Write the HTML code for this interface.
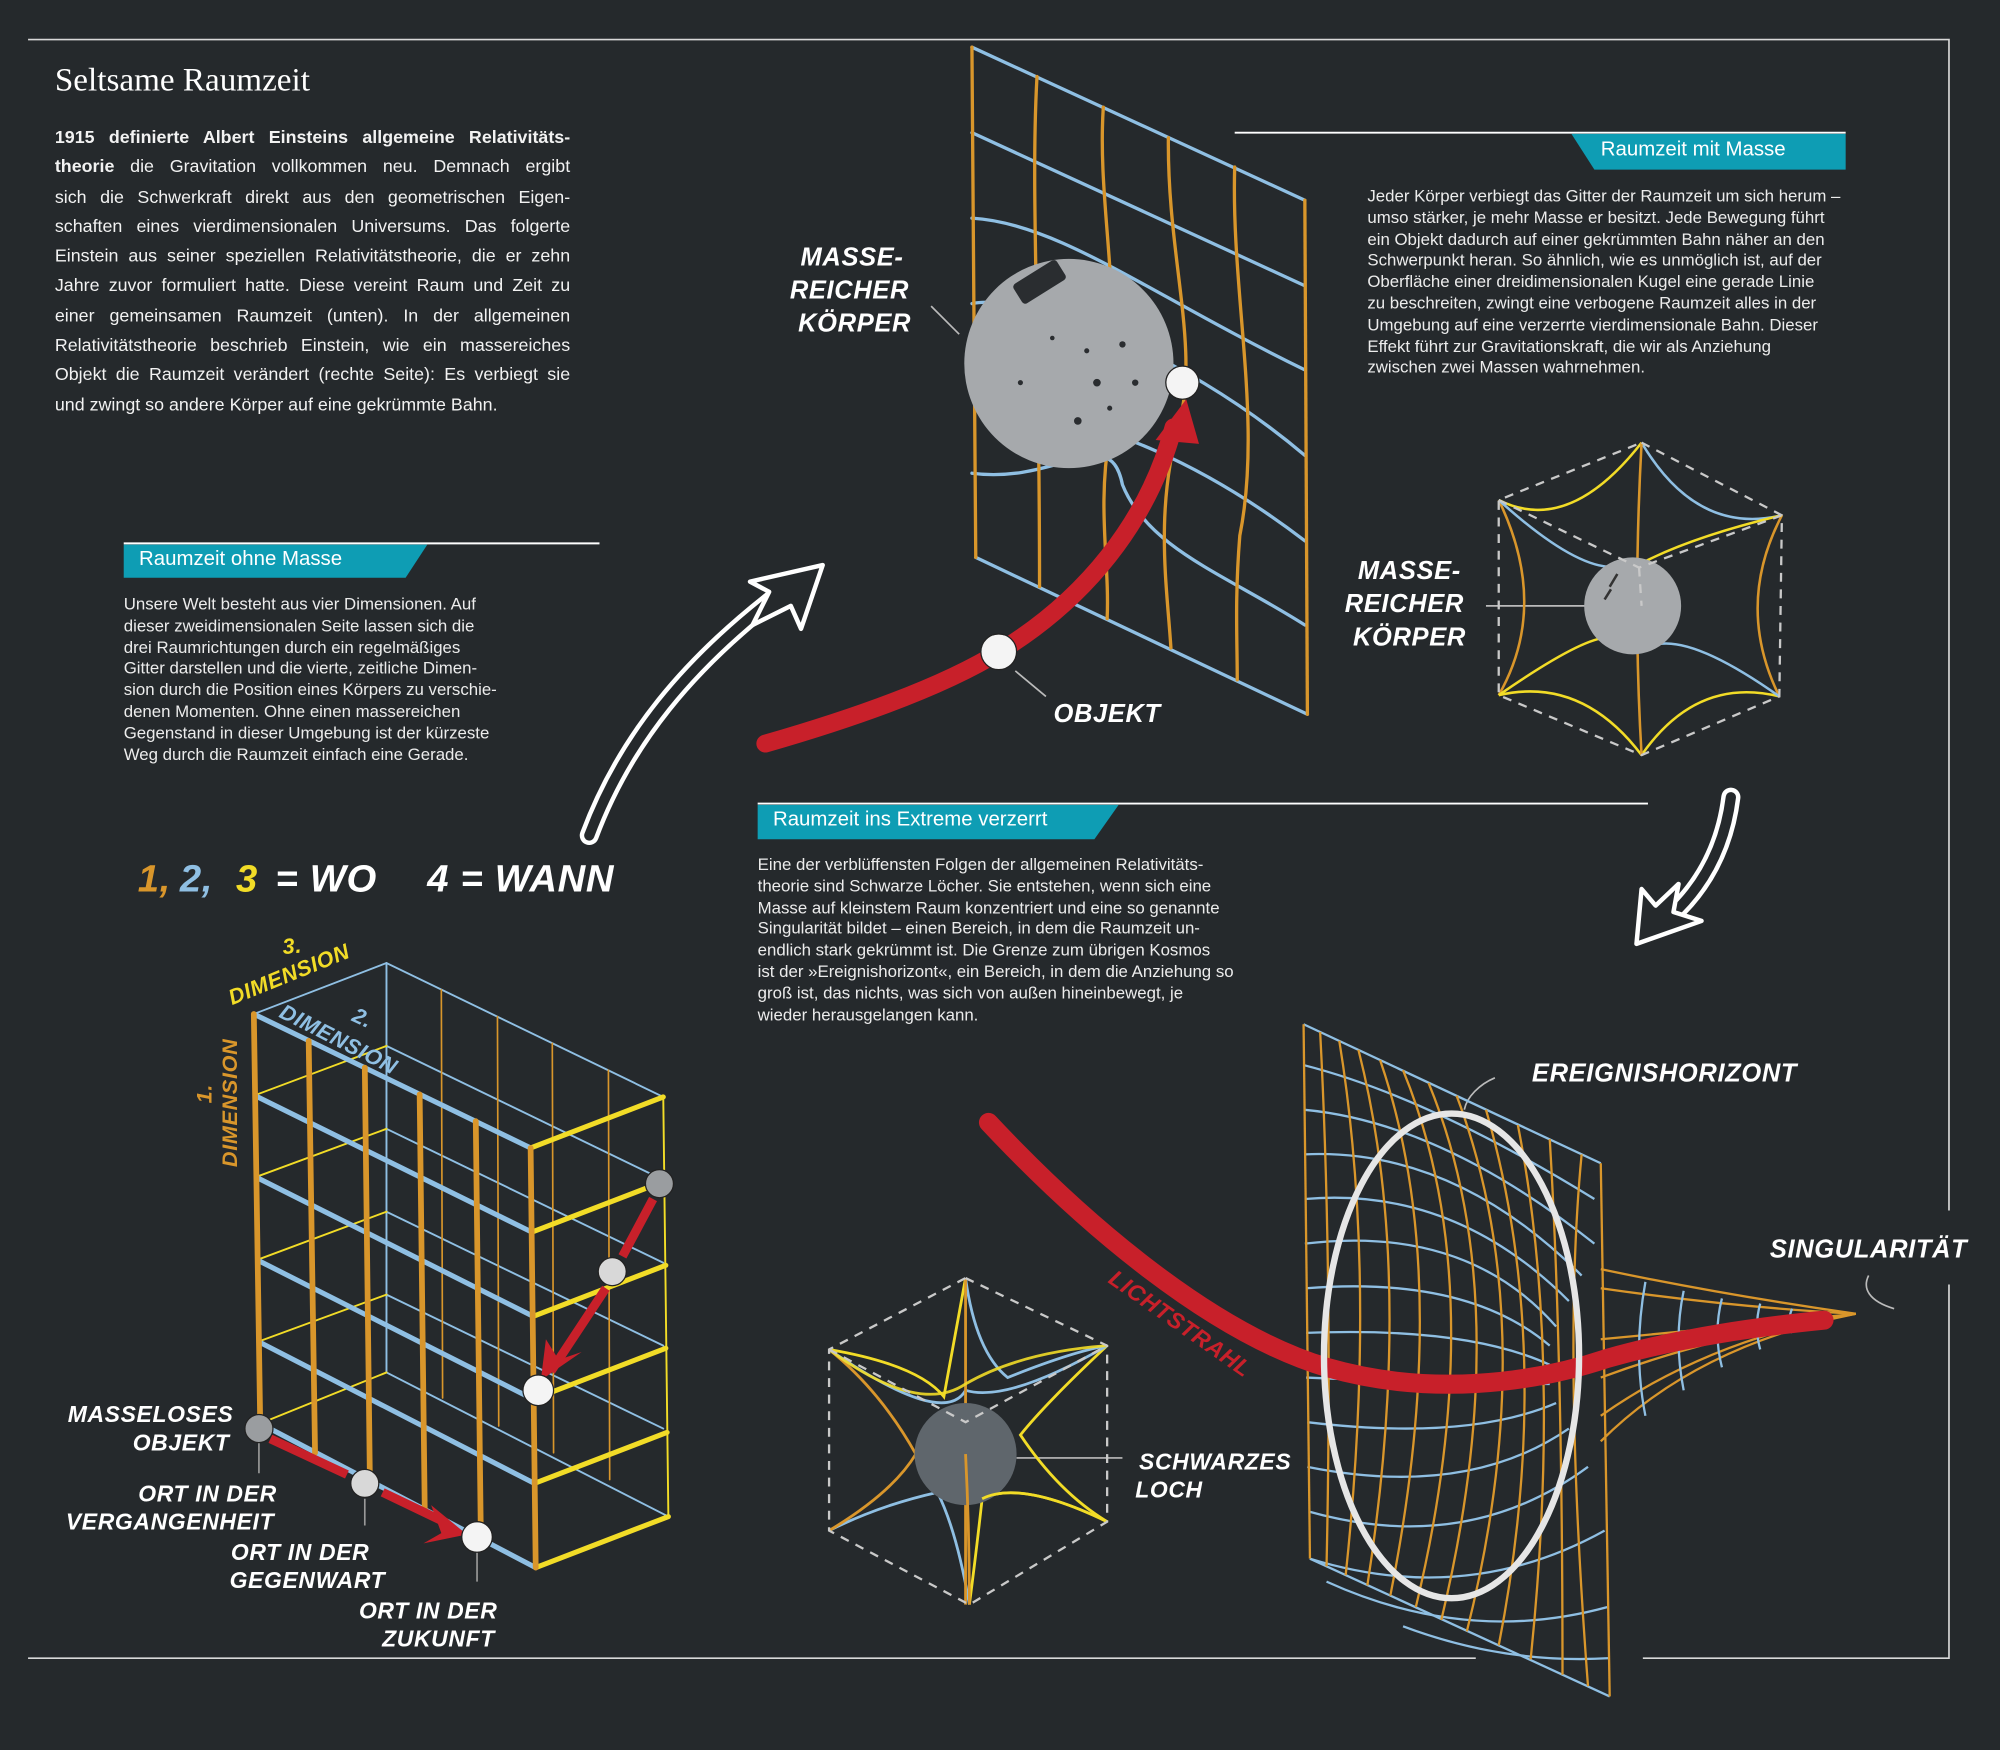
<!DOCTYPE html>
<html><head><meta charset="utf-8">
<style>
html,body{margin:0;padding:0;background:#25292c;}
#wrap{position:absolute;left:0;top:0;width:1568px;height:1372px;transform:scale(1.27551);transform-origin:0 0;background:#25292c;overflow:hidden;font-family:"Liberation Sans",sans-serif;color:#fff;}
svg{position:absolute;left:0;top:0;}
.t{position:absolute;white-space:nowrap;}
.main{position:absolute;left:43px;top:96px;width:404px;font-size:14px;line-height:23.3px;color:#f2f2f2;}
.main div{text-align:justify;text-align-last:justify;white-space:nowrap;}
.side{position:absolute;font-size:13.2px;line-height:16.8px;color:#ececec;}
.side div{white-space:nowrap;}
.hand{font-family:"Liberation Sans",sans-serif;font-weight:bold;font-style:italic;fill:#fff;letter-spacing:0.5px;}
</style></head><body>
<div id="wrap">
<svg width="1568" height="1372" viewBox="0 0 1568 1372">
<g stroke="#d8d8d8" stroke-width="1.3" fill="none">
<path d="M22,31 H1528 V949 M1528,1007 V1300 H1288 M1157,1300 H22 Z"/>
</g>
<line x1="97" y1="426" x2="470" y2="426" stroke="#fff" stroke-width="1.5"/>
<polygon points="97,427 335,427 318,453 97,453" fill="#0e9db4"/>
<line x1="968" y1="104" x2="1447" y2="104" stroke="#fff" stroke-width="1.5"/>
<polygon points="1232,105 1447,105 1447,133 1250,133" fill="#0e9db4"/>
<line x1="594" y1="630" x2="1292" y2="630" stroke="#fff" stroke-width="1.5"/>
<polygon points="594,631 877,631 858,658 594,658" fill="#0e9db4"/>

<g fill="none" stroke-linecap="round">
<path d="M462,655 C490,580 540,520 612,465" stroke="#fff" stroke-width="15"/>
<path d="M462,655 C490,580 540,520 612,465" stroke="#25292c" stroke-width="8"/>
<polygon points="645,443 588,456 603,464 590,490 620,475 628,493" fill="#25292c" stroke="#fff" stroke-width="3.5" stroke-linejoin="round"/>
<path d="M1357,625 C1352,665 1335,695 1310,718" stroke="#fff" stroke-width="15"/>
<path d="M1357,625 C1352,665 1335,695 1310,718" stroke="#25292c" stroke-width="8"/>
<polygon points="1283,740 1287,697 1298,710 1316,693 1312,715 1334,722" fill="#25292c" stroke="#fff" stroke-width="3.5" stroke-linejoin="round"/>
</g>

<g fill="none" stroke-width="2.6" stroke-linecap="round">
<g stroke="#8fbfe3">
<path d="M762,37 L1023,157"/>
<path d="M762,104 L1023,224"/>
<path d="M762,171 C830,175 900,230 1023,290"/>
<path d="M762,238 C800,230 920,270 1023,357"/>
<path d="M762,304 C820,330 900,330 1023,424"/>
<path d="M762,371 C830,380 870,330 880,380 C900,430 960,450 1023,490"/>
<path d="M765,437 L1025,560"/>
</g>
<g stroke="#d9962b">
<path d="M762,37 L765,437"/>
<path d="M813,60 C808,150 815,250 815,460"/>
<path d="M865,84 C860,160 880,230 870,340 C860,400 870,440 868,485"/>
<path d="M916,108 C915,200 940,270 925,330 C905,400 915,460 918,508"/>
<path d="M968,131 C965,230 990,330 972,420 C968,470 970,500 970,533"/>
<path d="M1023,157 L1025,560"/>
</g>
</g>
<circle cx="838" cy="285" r="82" fill="#a6a9ac"/>
<g fill="#2a2d30">
<rect x="795" y="212" width="40" height="18" rx="3" transform="rotate(-32 815 221)"/>
<circle cx="860" cy="300" r="3"/><circle cx="880" cy="270" r="2.5"/><circle cx="845" cy="330" r="3"/><circle cx="870" cy="320" r="2"/><circle cx="800" cy="300" r="2"/><circle cx="890" cy="300" r="2.5"/><circle cx="825" cy="265" r="1.8"/><circle cx="852" cy="275" r="2"/>
</g>
<path d="M600,583 C680,560 745,535 785,510 C850,470 900,410 920,335" fill="none" stroke="#c8202a" stroke-width="14" stroke-linecap="round"/>
<polygon points="930,313 906,345 940,348" fill="#c8202a"/>
<circle cx="927" cy="300" r="13" fill="#f4f4f4" stroke="#222" stroke-width="1"/>
<circle cx="783" cy="511" r="14" fill="#f4f4f4" stroke="#222" stroke-width="1"/>
<g stroke="#bbb" stroke-width="1.3"><line x1="730" y1="240" x2="752" y2="262"/><line x1="796" y1="526" x2="820" y2="546"/><line x1="1165" y1="475" x2="1243" y2="475"/><line x1="797" y1="1143" x2="880" y2="1143"/><path d="M1172,845 C1160,850 1150,860 1148,870" fill="none"/><path d="M1465,1000 C1460,1010 1465,1020 1485,1026" fill="none"/></g>

<g fill="none" stroke-width="2">
<path d="M1175,392 Q1230,420 1287,347" stroke="#f2dc27"/>
<path d="M1287,347 Q1330,420 1397,404" stroke="#8fbfe3"/>
<path d="M1397,404 Q1360,475 1395,546" stroke="#d9962b"/>
<path d="M1395,546 Q1330,530 1287,592" stroke="#f2dc27"/>
<path d="M1287,592 Q1240,530 1175,545" stroke="#f2dc27"/>
<path d="M1175,545 Q1215,475 1175,392" stroke="#d9962b"/>
<path d="M1175,392 Q1250,460 1280,440" stroke="#8fbfe3"/>
<path d="M1397,404 Q1330,420 1290,440" stroke="#f2dc27"/>
<path d="M1175,545 Q1240,500 1260,500" stroke="#f2dc27"/>
<path d="M1395,546 Q1330,500 1300,505" stroke="#8fbfe3"/>
<path d="M1287,347 Q1280,475 1287,592" stroke="#d9962b"/>
</g>
<circle cx="1280" cy="475" r="38" fill="#a6a9ac"/>
<path d="M1262,460 l6,-10 M1258,470 l5,-8" stroke="#333" stroke-width="2"/>
<g fill="none" stroke="#c9c9c9" stroke-width="1.8" stroke-dasharray="7,6">
<polygon points="1287,347 1397,404 1395,546 1287,592 1175,545 1175,392"/>
<path d="M1175,392 L1285,445 L1397,404 M1285,445 L1287,475"/>
</g>

<g fill="none" stroke-width="2.2">
<path d="M650,1058 Q720,1070 740,1095 Q750,1040 757,1002" stroke="#f2dc27"/>
<path d="M757,1002 Q765,1060 790,1080 Q840,1060 868,1055" stroke="#8fbfe3"/>
<path d="M868,1055 Q820,1100 800,1125 Q830,1170 868,1193" stroke="#f2dc27"/>
<path d="M868,1193 Q800,1160 770,1175 Q765,1220 760,1258" stroke="#f2dc27"/>
<path d="M760,1258 Q750,1200 735,1170 Q690,1180 650,1200" stroke="#8fbfe3"/>
<path d="M650,1200 Q700,1170 718,1140 Q690,1090 650,1058" stroke="#d9962b"/>
<path d="M650,1058 Q740,1120 757,1090 Q790,1100 868,1055" stroke="#8fbfe3"/>
<path d="M757,1002 L757,1258" stroke="#d9962b"/>
</g>
<circle cx="757" cy="1140" r="40" fill="#5f666c"/>
<g fill="none" stroke-width="2.2">
<path d="M650,1058 Q720,1110 757,1085 Q800,1060 868,1055" stroke="#f2dc27" opacity="0.9"/>
<path d="M757,1140 Q760,1200 760,1258" stroke="#d9962b"/>
<path d="M868,1193 Q800,1160 770,1175" stroke="#f2dc27"/>
</g>
<g fill="none" stroke="#c9c9c9" stroke-width="1.8" stroke-dasharray="7,6">
<polygon points="757,1002 868,1055 868,1193 760,1258 650,1200 650,1058"/>
<path d="M650,1058 L757,1115 L868,1055"/>
</g>

<g fill="none" stroke-width="1.8">
<g stroke="#8fbfe3">
<path d="M1022,803 L1255,912"/>
<path d="M1022,835 Q1120,860 1250,940"/>
<path d="M1022,870 Q1130,880 1250,975"/>
<path d="M1023,905 Q1140,900 1240,1000"/>
<path d="M1023,940 Q1140,930 1230,1020"/>
<path d="M1023,975 Q1150,960 1220,1040"/>
<path d="M1024,1010 Q1150,1000 1215,1055"/>
<path d="M1024,1045 Q1150,1040 1215,1070"/>
<path d="M1024,1080 Q1150,1085 1215,1085"/>
<path d="M1025,1115 Q1150,1130 1220,1100"/>
<path d="M1025,1150 Q1150,1175 1230,1120"/>
<path d="M1026,1185 Q1150,1220 1245,1150"/>
<path d="M1027,1222 Q1150,1260 1258,1200"/>
<path d="M1040,1240 Q1150,1290 1260,1260"/>
<path d="M1100,1275 Q1180,1305 1262,1300"/>
<path d="M1027,1222 L1262,1330"/>
</g>
<g stroke="#d9962b">
<path d="M1022,803 L1027,1222"/>
<path d="M1035,809 Q1045,1000 1040,1228"/>
<path d="M1050,816 Q1080,1000 1055,1235"/>
<path d="M1065,823 Q1110,1000 1072,1243"/>
<path d="M1082,831 Q1140,1000 1090,1251"/>
<path d="M1100,839 Q1170,1010 1110,1260"/>
<path d="M1120,849 Q1190,1020 1130,1270"/>
<path d="M1142,859 Q1210,1040 1150,1279"/>
<path d="M1165,870 Q1220,1060 1175,1290"/>
<path d="M1190,882 Q1225,1060 1200,1301"/>
<path d="M1215,893 Q1225,1060 1225,1313"/>
<path d="M1240,905 Q1225,1060 1245,1322"/>
<path d="M1255,912 L1262,1330"/>
</g>
<g stroke="#d9962b">
<path d="M1255,995 Q1350,1015 1455,1030"/>
<path d="M1255,1010 Q1360,1025 1455,1030"/>
<path d="M1255,1050 Q1360,1040 1455,1030"/>
<path d="M1255,1080 Q1350,1045 1455,1030"/>
<path d="M1255,1110 Q1340,1050 1455,1030"/>
<path d="M1255,1130 Q1330,1055 1455,1030"/>
</g>
<g stroke="#8fbfe3">
<path d="M1290,1005 Q1280,1060 1290,1110"/>
<path d="M1320,1012 Q1312,1050 1320,1090"/>
<path d="M1350,1018 Q1343,1045 1350,1072"/>
<path d="M1380,1022 Q1375,1040 1380,1058"/>
<path d="M1405,1026 Q1401,1035 1405,1045"/>
</g>
</g>
<path d="M775,880 C850,960 950,1045 1040,1072 C1120,1095 1200,1085 1260,1065 C1320,1048 1380,1040 1430,1035" fill="none" stroke="#c8202a" stroke-width="15" stroke-linecap="round"/>
<ellipse cx="1138" cy="1063" rx="100" ry="190" fill="none" stroke="#e6e6e6" stroke-width="5"/>

<g fill="none" stroke-linecap="round">
<g stroke="#8fbfe3" stroke-width="1.5">
<path d="M199,795 L303,755 L520,860"/>
<path d="M303,755 L303,1076"/>
<path d="M303,820 L520,925 M303,885 L520,990 M303,950 L520,1055 M303,1015 L520,1120 M303,1076 L524,1189"/>
</g>
<g stroke="#f2dc27" stroke-width="1.5">
<path d="M199,859 L303,820 M200,923 L303,885 M201,988 L303,950 M202,1052 L303,1015 M204,1116 L303,1076"/>
</g>
<g stroke="#d9962b" stroke-width="1.3">
<path d="M346,776 L347,1096 M390,797 L391,1118 M433,818 L434,1139 M477,839 L478,1160"/>
</g>
<g stroke="#8fbfe3" stroke-width="4">
<path d="M199,795 L416,900 M200,859 L417,966 M201,923 L418,1032 M202,988 L418,1097 M203,1052 L419,1163 M204,1116 L420,1229"/>
<path d="M420,1229 L524,1189" stroke-width="3"/>
</g>
<g stroke="#f2dc27" stroke-width="4">
<path d="M416,900 L520,860 M417,966 L521,926 M418,1032 L522,992 M418,1097 L522,1057 M419,1163 L523,1123 M420,1229 L524,1189"/>
<path d="M520,860 L524,1189" stroke-width="1.5"/>
</g>
<g stroke="#d9962b" stroke-width="4.5">
<path d="M199,795 L204,1116 M242,816 L247,1139 M286,837 L290,1161 M329,858 L333,1184 M373,879 L377,1206 M416,900 L420,1229"/>
</g>
<g stroke="#c8202a" stroke-width="7" stroke-linecap="butt">
<path d="M212,1128 L272,1156 M300,1170 L350,1194"/>
<path d="M512,940 L488,985 M475,1010 L432,1075"/>
</g>
</g>
<polygon points="366,1203 338,1180 346,1202 332,1210" fill="#c8202a"/>
<polygon points="424,1082 428,1050 438,1066 456,1060" fill="#c8202a"/>
<g stroke="#999" stroke-width="1.3"><path d="M203,1130 V1155 M286,1175 V1196 M374,1217 V1240"/></g>
<circle cx="203" cy="1120" r="11" fill="#9a9da0" stroke="#222"/>
<circle cx="286" cy="1163" r="11" fill="#d8d8d8" stroke="#222"/>
<circle cx="374" cy="1205" r="12" fill="#f4f4f4" stroke="#222"/>
<circle cx="517" cy="928" r="11" fill="#9a9da0" stroke="#222"/>
<circle cx="480" cy="997" r="11" fill="#d8d8d8" stroke="#222"/>
<circle cx="422" cy="1090" r="12" fill="#f4f4f4" stroke="#222"/>

<g class="hand" font-size="20" text-anchor="middle">
<text x="668" y="208">MASSE-</text><text x="666" y="234">REICHER</text><text x="670" y="260">KÖRPER</text>
<text x="868" y="566">OBJEKT</text>
<text x="1105" y="454">MASSE-</text><text x="1101" y="480">REICHER</text><text x="1105" y="506">KÖRPER</text>
<text x="1305" y="848">EREIGNISHORIZONT</text>
<text x="1465" y="986">SINGULARITÄT</text>
</g>
<g class="hand" font-size="18" text-anchor="end">
<text x="183" y="1115">MASSELOSES</text><text x="180" y="1137">OBJEKT</text>
<text x="217" y="1177">ORT IN DER</text><text x="215" y="1199">VERGANGENHEIT</text>
<text x="390" y="1269">ORT IN DER</text><text x="388" y="1291">ZUKUNFT</text>
</g>
<g class="hand" font-size="18" text-anchor="start">
<text x="181" y="1223">ORT IN DER</text><text x="180" y="1245">GEGENWART</text>
<text x="893" y="1152">SCHWARZES</text><text x="890" y="1174">LOCH</text>
</g>
<text class="hand" font-size="18" x="0" y="0" style="fill:#c8202a" transform="translate(868,1005) rotate(35)">LICHTSTRAHL</text>
<g class="hand" font-size="30">
<text x="108" y="699" style="fill:#d9962b">1,</text>
<text x="141" y="699" style="fill:#8fbfe3">2,</text>
<text x="185" y="699" style="fill:#f2dc27">3</text>
<text x="216" y="699">= WO</text>
<text x="335" y="699">4 = WANN</text>
</g>
<g class="hand" font-size="17">
<text style="fill:#f2dc27" transform="translate(222,748) rotate(-5)">3.</text>
<text style="fill:#f2dc27" transform="translate(182,788) rotate(-22)">DIMENSION</text>
<text style="fill:#8fbfe3" transform="translate(275,800) rotate(25)">2.</text>
<text style="fill:#8fbfe3" transform="translate(218,797) rotate(27)">DIMENSION</text>
<text style="fill:#d9962b" transform="translate(166,865) rotate(-90)">1.</text>
<text style="fill:#d9962b" transform="translate(186,915) rotate(-90)">DIMENSION</text>
</g>
</svg>

<div class="t" style="left:43px;top:48px;font-family:'Liberation Serif',serif;font-size:26px;color:#fff;">Seltsame Raumzeit</div>
<div class="main">
<div><b>1915 definierte Albert Einsteins allgemeine Relativitäts-</b></div>
<div><b>theorie</b> die Gravitation vollkommen neu. Demnach ergibt</div>
<div>sich die Schwerkraft direkt aus den geometrischen Eigen-</div>
<div>schaften eines vierdimensionalen Universums. Das folgerte</div>
<div>Einstein aus seiner speziellen Relativitätstheorie, die er zehn</div>
<div>Jahre zuvor formuliert hatte. Diese vereint Raum und Zeit zu</div>
<div>einer gemeinsamen Raumzeit (unten). In der allgemeinen</div>
<div>Relativitätstheorie beschrieb Einstein, wie ein massereiches</div>
<div>Objekt die Raumzeit verändert (rechte Seite): Es verbiegt sie</div>
<div style="text-align-last:left">und zwingt so andere Körper auf eine gekrümmte Bahn.</div>
</div>

<div class="t" style="left:109px;top:430px;font-size:16px;color:#fff;">Raumzeit ohne Masse</div>
<div class="t" style="left:1255px;top:109px;font-size:16px;color:#fff;">Raumzeit mit Masse</div>
<div class="t" style="left:606px;top:634px;font-size:16px;color:#fff;">Raumzeit ins Extreme verzerrt</div>

<div class="side" style="left:97px;top:466px;">
<div>Unsere Welt besteht aus vier Dimensionen. Auf</div>
<div>dieser zweidimensionalen Seite lassen sich die</div>
<div>drei Raumrichtungen durch ein regelmäßiges</div>
<div>Gitter darstellen und die vierte, zeitliche Dimen-</div>
<div>sion durch die Position eines Körpers zu verschie-</div>
<div>denen Momenten. Ohne einen massereichen</div>
<div>Gegenstand in dieser Umgebung ist der kürzeste</div>
<div>Weg durch die Raumzeit einfach eine Gerade.</div>
</div>
<div class="side" style="left:1072px;top:146px;">
<div>Jeder Körper verbiegt das Gitter der Raumzeit um sich herum –</div>
<div>umso stärker, je mehr Masse er besitzt. Jede Bewegung führt</div>
<div>ein Objekt dadurch auf einer gekrümmten Bahn näher an den</div>
<div>Schwerpunkt heran. So ähnlich, wie es unmöglich ist, auf der</div>
<div>Oberfläche einer dreidimensionalen Kugel eine gerade Linie</div>
<div>zu beschreiten, zwingt eine verbogene Raumzeit alles in der</div>
<div>Umgebung auf eine verzerrte vierdimensionale Bahn. Dieser</div>
<div>Effekt führt zur Gravitationskraft, die wir als Anziehung</div>
<div>zwischen zwei Massen wahrnehmen.</div>
</div>
<div class="side" style="left:594px;top:670px;">
<div>Eine der verblüffensten Folgen der allgemeinen Relativitäts-</div>
<div>theorie sind Schwarze Löcher. Sie entstehen, wenn sich eine</div>
<div>Masse auf kleinstem Raum konzentriert und eine so genannte</div>
<div>Singularität bildet – einen Bereich, in dem die Raumzeit un-</div>
<div>endlich stark gekrümmt ist. Die Grenze zum übrigen Kosmos</div>
<div>ist der »Ereignishorizont«, ein Bereich, in dem die Anziehung so</div>
<div>groß ist, das nichts, was sich von außen hineinbewegt, je</div>
<div>wieder herausgelangen kann.</div>
</div>
</div>
</body></html>
